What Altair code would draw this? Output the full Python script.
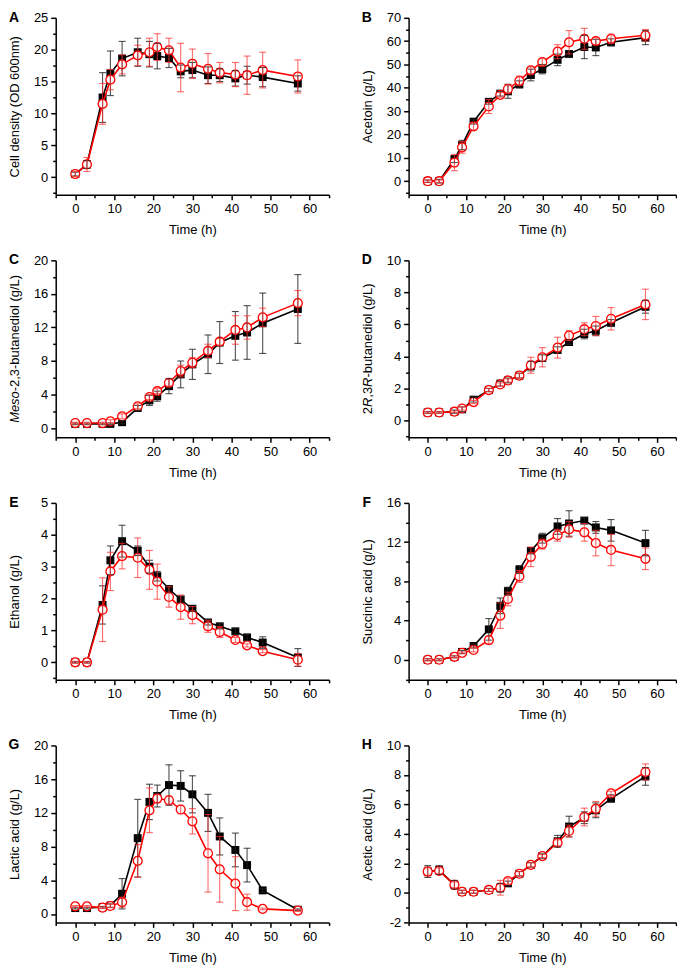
import altair as alt
import pandas as pd

FONT = "Liberation Sans"

time_h = [0, 3, 7, 9, 12, 16, 19, 21, 24, 27, 30, 34, 37, 41, 44, 48, 57]

# A  Cell density
cell_black = [0.5, 2.0, 12.5, 16.3, 18.6, 19.6, 19.3, 19.0, 18.7, 16.6, 16.8, 16.0, 16.0, 15.5, 16.0, 15.7, 14.7]
cell_black_err = [0.3, 0.6, 3.9, 3.5, 2.7, 2.2, 2.0, 2.0, 1.5, 1.0, 1.2, 1.3, 1.0, 1.2, 1.4, 1.5, 1.2]
cell_red = [0.5, 2.0, 11.5, 15.3, 17.7, 19.1, 19.6, 20.4, 19.9, 17.2, 17.8, 17.0, 16.4, 16.1, 16.0, 16.8, 15.8]
cell_red_err = [0.4, 1.1, 3.2, 1.6, 1.5, 1.6, 2.2, 2.1, 1.9, 3.8, 2.3, 2.4, 1.6, 1.9, 3.0, 2.8, 2.6]

# B  Acetoin
acetoin_black = [0, 0, 9.5, 15.5, 25.5, 34.0, 37.5, 38.5, 41.5, 45.5, 48.0, 52.0, 54.5, 57.5, 57.3, 59.5, 61.5]
acetoin_black_err = [0.5, 0.8, 1.5, 2.0, 1.0, 1.0, 1.0, 3.0, 1.5, 2.5, 2.0, 2.5, 1.5, 5.0, 3.5, 1.5, 3.0]
acetoin_red = [0, 0, 8.0, 14.5, 23.5, 32.0, 37.0, 39.5, 43.0, 47.5, 51.0, 55.5, 59.5, 61.0, 60.0, 61.0, 62.5]
acetoin_red_err = [0.5, 0.5, 3.5, 2.5, 1.5, 3.0, 1.0, 2.0, 2.0, 1.5, 1.5, 3.0, 5.0, 4.5, 1.5, 2.0, 2.5]

# C  Meso-2,3-butanediol
meso_black = [0.5, 0.5, 0.5, 0.5, 0.7, 2.4, 3.3, 3.8, 5.0, 6.4, 7.6, 8.8, 10.2, 11.0, 11.4, 12.5, 14.2]
meso_black_err = [0.1, 0.1, 0.1, 0.1, 0.2, 0.3, 0.6, 0.6, 0.9, 1.6, 1.8, 2.3, 2.5, 2.9, 3.2, 3.6, 4.1]
meso_red = [0.6, 0.6, 0.6, 0.8, 1.4, 2.6, 3.7, 4.4, 5.4, 6.8, 7.8, 9.2, 10.3, 11.7, 12.0, 13.2, 14.9]
meso_red_err = [0.1, 0.1, 0.1, 0.2, 0.3, 0.3, 0.3, 0.3, 0.4, 0.7, 0.6, 0.8, 0.4, 1.7, 1.4, 1.1, 1.5]

# D  2R,3R-butanediol
rr_black = [0.5, 0.5, 0.55, 0.7, 1.3, 1.9, 2.3, 2.5, 2.8, 3.4, 3.9, 4.4, 4.9, 5.4, 5.6, 6.1, 7.1]
rr_black_err = [0.05, 0.05, 0.1, 0.15, 0.15, 0.1, 0.15, 0.15, 0.15, 0.3, 0.2, 0.2, 0.15, 0.3, 0.3, 0.2, 0.4]
rr_red = [0.5, 0.5, 0.55, 0.75, 1.15, 1.9, 2.25, 2.5, 2.8, 3.45, 3.95, 4.55, 5.3, 5.7, 5.9, 6.35, 7.25]
rr_red_err = [0.05, 0.05, 0.05, 0.1, 0.1, 0.1, 0.1, 0.1, 0.15, 0.5, 0.6, 0.65, 0.3, 0.4, 0.6, 0.7, 0.95]

# E  Ethanol
ethanol_black = [0, 0, 1.8, 3.2, 3.8, 3.5, 3.0, 2.7, 2.3, 1.97, 1.68, 1.25, 1.13, 0.97, 0.78, 0.62, 0.15]
ethanol_black_err = [0.02, 0.02, 0.6, 0.45, 0.5, 0.15, 0.2, 0.15, 0.1, 0.1, 0.08, 0.08, 0.08, 0.1, 0.1, 0.18, 0.28]
ethanol_red = [0, 0, 1.65, 2.85, 3.33, 3.28, 2.9, 2.53, 2.05, 1.73, 1.48, 1.13, 0.95, 0.7, 0.53, 0.35, 0.08]
ethanol_red_err = [0.03, 0.03, 1.0, 0.6, 0.4, 0.62, 0.61, 0.55, 0.32, 0.38, 0.27, 0.19, 0.17, 0.08, 0.05, 0.05, 0.2]

# F  Succinic acid
succinic_black = [0, 0, 0.3, 0.8, 1.4, 3.1, 5.5, 7.0, 9.2, 11.1, 12.4, 13.6, 13.9, 14.2, 13.5, 13.2, 11.9]
succinic_black_err = [0.1, 0.1, 0.1, 0.15, 0.2, 1.1, 0.8, 0.4, 0.4, 0.3, 0.5, 0.8, 1.3, 0.3, 0.6, 1.1, 1.3]
succinic_red = [0, 0, 0.3, 0.7, 1.0, 2.0, 4.5, 6.2, 8.5, 10.5, 11.8, 12.7, 13.3, 13.0, 11.9, 11.2, 10.3]
succinic_red_err = [0.1, 0.1, 0.1, 0.1, 0.2, 0.4, 1.3, 0.7, 0.6, 1.0, 0.5, 0.6, 0.8, 0.9, 1.3, 1.6, 1.1]

# G  Lactic acid
lactic_black = [0.7, 0.7, 0.8, 1.0, 2.4, 9.0, 13.3, 14.0, 15.3, 15.2, 14.2, 12.0, 9.2, 7.6, 5.8, 2.8, 0.5]
lactic_black_err = [0.1, 0.1, 0.1, 0.2, 1.8, 4.6, 2.1, 1.3, 2.4, 1.8, 2.2, 2.2, 2.2, 2.0, 2.0, 0.2, 0.1]
lactic_red = [0.9, 0.9, 0.75, 0.95, 1.4, 6.3, 12.3, 13.7, 13.5, 12.4, 11.0, 7.2, 5.3, 3.6, 1.4, 0.6, 0.4]
lactic_red_err = [0.1, 0.1, 0.1, 0.2, 0.6, 1.95, 2.65, 0.5, 0.5, 0.5, 1.5, 4.6, 3.9, 3.2, 0.95, 0.1, 0.1]

# H  Acetic acid
acetic_black = [1.45, 1.55, 0.55, 0.08, 0.08, 0.2, 0.35, 0.65, 1.3, 1.9, 2.5, 3.5, 4.5, 5.1, 5.6, 6.4, 7.9]
acetic_black_err = [0.4, 0.3, 0.3, 0.1, 0.1, 0.1, 0.3, 0.15, 0.15, 0.15, 0.15, 0.4, 0.7, 0.4, 0.5, 0.25, 0.6]
acetic_red = [1.45, 1.5, 0.55, 0.08, 0.08, 0.2, 0.35, 0.8, 1.3, 1.9, 2.5, 3.4, 4.2, 5.15, 5.7, 6.75, 8.2]
acetic_red_err = [0.3, 0.2, 0.2, 0.1, 0.1, 0.1, 0.5, 0.2, 0.15, 0.15, 0.1, 0.2, 0.4, 0.6, 0.5, 0.15, 0.55]

x_ticks = list(range(-5, 70, 5))

H = 178
W_LEFT = 275
W_RIGHT = 269
FS = 13

# Arial advance widths (per 1000 em) used to compose the mixed-style titles
ADV = {"2": 556, "R": 722, ",": 278, "3": 556, "M": 833, "e": 556, "s": 500, "o": 556}
TAIL_W = {"-2,3-butanediol (g/L)": 9004, "-butanediol (g/L)": 7281}


def adv(s):
    if s in TAIL_W:
        return TAIL_W[s] * FS / 1000.0
    return sum(ADV[c] for c in s) * FS / 1000.0


def frame(values, errs):
    df = pd.DataFrame({"t": time_h, "v": values, "e": errs})
    df["lo"] = df["v"] - df["e"]
    df["hi"] = df["v"] + df["e"]
    return df


def panel(letter, ytitle, black, black_err, red, red_err, ydom, ymajor, yticks, width, parts=None):
    xax = alt.Axis(
        values=x_ticks,
        labelExpr="datum.value % 10 === 0 ? '' + datum.value : ''",
        tickSize={"condition": {"test": "datum.value % 10 === 0", "value": 5}, "value": 3},
        title="Time (h)", titleY=35, titleBaseline="middle", labelFlush=False,
    )
    yax = alt.Axis(
        values=yticks,
        labelExpr=f"datum.value % {ymajor} === 0 ? '' + datum.value : ''",
        tickSize={"condition": {"test": f"datum.value % {ymajor} === 0", "value": 5}, "value": 3},
        title=(ytitle if parts is None else None),
        titleX=-41, titleY=H / 2, titleAngle=270, titleAlign="center", titleBaseline="middle",
        labelFlush=False,
    )
    xs = alt.Scale(domain=[-5, 65], nice=False, zero=False)
    ys = alt.Scale(domain=ydom, nice=False, zero=False)
    X = alt.X("t:Q", scale=xs, axis=xax)
    Yv = alt.Y("v:Q", scale=ys, axis=yax)
    Ylo = alt.Y("lo:Q", scale=ys, axis=yax)
    Yhi = alt.Y("hi:Q", scale=ys, axis=yax)

    db = frame(black, black_err)
    dr = frame(red, red_err)

    def errbars(df, color, op):
        base = alt.Chart(df)
        stem = base.mark_rule(color=color, strokeWidth=1.1, opacity=op).encode(
            x=X, y=Ylo, y2=alt.Y2("hi:Q"))
        cap_lo = base.mark_rule(color=color, strokeWidth=1.1, opacity=op, xOffset=-3.5, x2Offset=3.5).encode(
            x=X, x2=alt.X2("t:Q"), y=Ylo)
        cap_hi = base.mark_rule(color=color, strokeWidth=1.1, opacity=op, xOffset=-3.5, x2Offset=3.5).encode(
            x=X, x2=alt.X2("t:Q"), y=Yhi)
        return [stem, cap_lo, cap_hi]

    layers = [
        alt.Chart(db).mark_line(color="black", strokeWidth=1.6).encode(x=X, y=Yv),
        alt.Chart(db).mark_point(shape="square", filled=True, color="black", size=64, opacity=1).encode(x=X, y=Yv),
        alt.Chart(dr).mark_line(color="#ff0000", strokeWidth=1.6).encode(x=X, y=Yv),
        alt.Chart(dr).mark_point(shape="circle", filled=True, fill="white", stroke="#ff0000",
                                 strokeWidth=1.3, size=80, opacity=1).encode(x=X, y=Yv),
    ]
    layers += errbars(db, "#222222", 0.8)
    layers += errbars(dr, "#ff2a2a", 0.7)

    one = pd.DataFrame({"k": [0]})
    layers.append(
        alt.Chart(one).mark_text(text=letter, font=FONT, fontSize=14, fontWeight="bold",
                                 align="center", baseline="middle", color="black")
        .encode(x=alt.value(-42), y=alt.value(0))
    )
    if parts is not None:
        full = sum(adv(p) for p, _ in parts)
        pos = H / 2 + full / 2
        for p, it in parts:
            layers.append(
                alt.Chart(one).mark_text(text=p, font=FONT, fontSize=FS,
                                         fontStyle=("italic" if it else "normal"),
                                         angle=270, align="left", baseline="middle", color="black")
                .encode(x=alt.value(-41), y=alt.value(pos))
            )
            pos -= adv(p)

    return alt.layer(*layers).properties(width=width, height=H)


def ticks(lo, hi, step):
    out = []
    v = lo
    while v <= hi + 1e-9:
        out.append(round(v, 4))
        v += step
    return out


pA = panel("A", "Cell density (OD 600nm)", cell_black, cell_black_err, cell_red, cell_red_err,
           [-2.75, 25], 5, ticks(-2.5, 25, 2.5), W_LEFT)
pB = panel("B", "Acetoin (g/L)", acetoin_black, acetoin_black_err, acetoin_red, acetoin_red_err,
           [-5.8, 70], 10, ticks(-5, 70, 5), W_RIGHT)
pC = panel("C", "Meso-2,3-butanediol (g/L)", meso_black, meso_black_err, meso_red, meso_red_err,
           [-1.1, 20], 4, ticks(0, 20, 2), W_LEFT,
           parts=[("Meso", True), ("-2,3-butanediol (g/L)", False)])
pD = panel("D", "2R,3R-butanediol (g/L)", rr_black, rr_black_err, rr_red, rr_red_err,
           [-1.05, 10], 2, ticks(-1, 10, 1), W_RIGHT,
           parts=[("2", False), ("R", True), (",3", False), ("R", True), ("-butanediol (g/L)", False)])
pE = panel("E", "Ethanol (g/L)", ethanol_black, ethanol_black_err, ethanol_red, ethanol_red_err,
           [-0.55, 5], 1, ticks(-0.5, 5, 0.5), W_LEFT)
pF = panel("F", "Succinic acid (g/L)", succinic_black, succinic_black_err, succinic_red, succinic_red_err,
           [-2.05, 16], 4, ticks(-2, 16, 2), W_RIGHT)
pG = panel("G", "Lactic acid (g/L)", lactic_black, lactic_black_err, lactic_red, lactic_red_err,
           [-1, 20], 4, ticks(0, 20, 2), W_LEFT)
pH = panel("H", "Acetic acid (g/L)", acetic_black, acetic_black_err, acetic_red, acetic_red_err,
           [-2, 10], 2, ticks(-2, 10, 1), W_RIGHT)

chart = (
    alt.concat(pA, pB, pC, pD, pE, pF, pG, pH, columns=2,
               spacing={"row": 66, "column": 80}, bounds="flush")
    .properties(padding=0)
    .configure_view(stroke=None)
    .configure_axis(
        grid=False, domainColor="black", domainWidth=1.5, tickColor="black", tickWidth=1.5,
        labelFont=FONT, labelFontSize=FS, labelColor="black", labelPadding=3,
        titleFont=FONT, titleFontSize=FS, titleFontWeight="normal", titleColor="black",
    )
)

chart.save("out.html", embed_options={"renderer": "svg", "actions": False})
